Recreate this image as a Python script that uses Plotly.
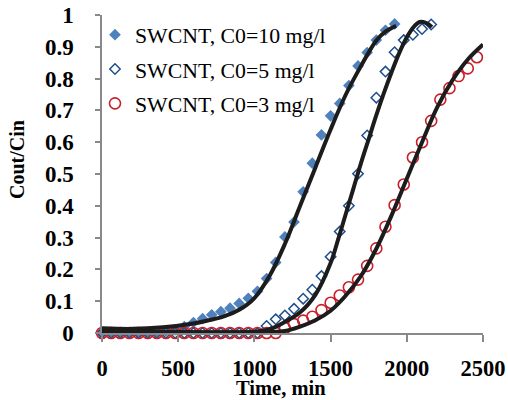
import plotly.graph_objects as go

# ---- measured data (time, min ; Cout/Cin) ----
t_c10 = [0, 60, 120, 180, 240, 300, 360, 420, 480, 540, 600, 660, 720, 780, 840, 900, 960,
         1020, 1080, 1140, 1200, 1260, 1320, 1380, 1440, 1500, 1560, 1620, 1680, 1740, 1800, 1860, 1920]
y_c10 = [0, 0, 0, 0, 0, 0, 0.003, 0.006, 0.01, 0.02, 0.033, 0.045, 0.057, 0.067, 0.078, 0.093, 0.109,
         0.131, 0.171, 0.222, 0.302, 0.349, 0.444, 0.534, 0.623, 0.683, 0.722, 0.778, 0.840, 0.882, 0.921, 0.952, 0.972]

t_c5 = [0, 60, 120, 180, 240, 300, 360, 420, 480, 540, 600, 660, 720, 780, 840, 900, 960, 1020,
        1080, 1140, 1200, 1260, 1320, 1380, 1440, 1500, 1560, 1620, 1680, 1740, 1800, 1860, 1920,
        1980, 2040, 2100, 2160]
y_c5 = [0, 0, 0, 0, 0, 0, 0, 0, 0, 0, 0, 0, 0, 0, 0, 0, 0, 0,
        0.022, 0.043, 0.055, 0.076, 0.108, 0.136, 0.179, 0.240, 0.319, 0.400, 0.501, 0.621, 0.740, 0.822, 0.883,
        0.921, 0.938, 0.956, 0.970]

t_c3 = [0, 60, 120, 180, 240, 300, 360, 420, 480, 540, 600, 660, 720, 780, 840, 900, 960, 1020, 1080, 1140,
        1200, 1260, 1320, 1380, 1440, 1500, 1560, 1620, 1680, 1740, 1800, 1860, 1920, 1980, 2040, 2100,
        2160, 2220, 2280, 2340, 2400, 2460]
y_c3 = [0, 0, 0, 0, 0, 0, 0, 0, 0, 0, 0, 0, 0, 0, 0, 0, 0, 0, 0, 0,
        0.015, 0.028, 0.039, 0.051, 0.072, 0.095, 0.118, 0.144, 0.168, 0.211, 0.266, 0.334, 0.402, 0.467, 0.552, 0.600,
        0.667, 0.734, 0.770, 0.808, 0.832, 0.867]

# ---- fitted model curves ----
fit_c10_t = [0, 200, 400, 600, 700, 800, 900, 1000, 1100, 1200, 1300, 1400, 1500, 1600, 1700, 1800, 1860, 1930]
fit_c10_y = [0.015, 0.013, 0.018, 0.03, 0.04, 0.052, 0.073, 0.11, 0.18, 0.28, 0.40, 0.52, 0.64, 0.75, 0.84, 0.92, 0.948, 0.966]

fit_c5_t = [0, 500, 1000, 1100, 1200, 1300, 1400, 1500, 1550, 1600, 1650, 1700, 1750, 1800, 1850, 1900,
            1950, 2000, 2050, 2085, 2125, 2165]
fit_c5_y = [0.003, 0.003, 0.004, 0.012, 0.035, 0.065, 0.12, 0.22, 0.295, 0.375, 0.455, 0.535, 0.61, 0.685, 0.755, 0.82,
            0.88, 0.93, 0.965, 0.978, 0.975, 0.962]

fit_c3_t = [0, 500, 1000, 1100, 1200, 1300, 1400, 1500, 1600, 1700, 1800, 1900, 2000, 2100, 2200, 2300, 2400, 2500]
fit_c3_y = [0.002, 0.002, 0.002, 0.003, 0.006, 0.02, 0.04, 0.07, 0.118, 0.18, 0.265, 0.37, 0.485, 0.60, 0.71, 0.795, 0.86, 0.907]

names = ["SWCNT, C0=10 mg/l", "SWCNT, C0=5 mg/l", "SWCNT, C0=3 mg/l"]
x_ticks = [0, 500, 1000, 1500, 2000, 2500]

FONT = "Liberation Serif"
AXC = "#898989"

fig = go.Figure()

fig.add_trace(go.Scatter(x=t_c10, y=y_c10, mode="markers", name=names[0], legendgroup="a",
                         marker=dict(symbol="diamond", size=9, color="#4F81BD", line=dict(width=0)),
                         cliponaxis=False))
fig.add_trace(go.Scatter(x=t_c5, y=y_c5, mode="markers", name=names[1], legendgroup="b",
                         marker=dict(symbol="diamond-open", size=8, color="#1F4E8C", line=dict(width=1.5)),
                         cliponaxis=False))
fig.add_trace(go.Scatter(x=t_c3, y=y_c3, mode="markers", name=names[2], legendgroup="c",
                         marker=dict(symbol="circle-open", size=11, color="#C8202A", line=dict(width=1.6)),
                         cliponaxis=False))

for ft, fy in [(fit_c10_t, fit_c10_y), (fit_c5_t, fit_c5_y), (fit_c3_t, fit_c3_y)]:
    fig.add_trace(go.Scatter(x=ft, y=fy, mode="lines", showlegend=False, hoverinfo="skip",
                             line=dict(color="#1c1c1c", width=4, shape="spline", smoothing=1),
                             cliponaxis=False))

L, R, T, B = 102, 483, 15, 333

fig.update_layout(
    width=508, height=400,
    margin=dict(l=L, r=508 - R, t=T, b=400 - B, autoexpand=False),
    paper_bgcolor="white", plot_bgcolor="white",
    font=dict(family=FONT, color="black"),
    showlegend=True,
    legend=dict(x=-7 / (R - L), y=1 + 1 / (B - T), xanchor="left", yanchor="top", bgcolor="rgba(0,0,0,0)",
                font=dict(family=FONT, size=21.8, color="black"), tracegroupgap=3,
                itemwidth=30),
    xaxis=dict(range=[0, 2500], tickvals=x_ticks, showgrid=False, zeroline=False, automargin=False,
               showline=True, linecolor=AXC, linewidth=1.5, ticks="outside", ticklen=7,
               tickcolor=AXC, tickwidth=1.5,
               tickfont=dict(family=FONT, size=22.5, color="black", weight="bold"),
               ticklabelstandoff=7),
    yaxis=dict(range=[0, 1], dtick=0.1, tick0=0, showgrid=False, zeroline=False, automargin=False,
               showline=True, linecolor=AXC, linewidth=1.5, ticks="outside", ticklen=5,
               tickcolor=AXC, tickwidth=1.5,
               tickfont=dict(family=FONT, size=23, color="black", weight="bold"),
               ticklabelstandoff=17),
    annotations=[
        dict(text="Time, min", x=(281 - L) / (R - L), y=(B - 388) / (B - T), xref="paper", yref="paper",
             xanchor="center", yanchor="middle", showarrow=False, borderpad=0,
             font=dict(family=FONT, size=20.5, color="black", weight="bold")),
        dict(text="Cout/Cin", textangle=-90, x=(17 - L) / (R - L), y=(B - 160) / (B - T),
             xref="paper", yref="paper", xanchor="center", yanchor="middle", showarrow=False,
             font=dict(family=FONT, size=20, color="black", weight="bold")),
    ],
)

fig.write_html("out.html", config={"displayModeBar": False},
               post_script="document.body.style.margin='0';")
